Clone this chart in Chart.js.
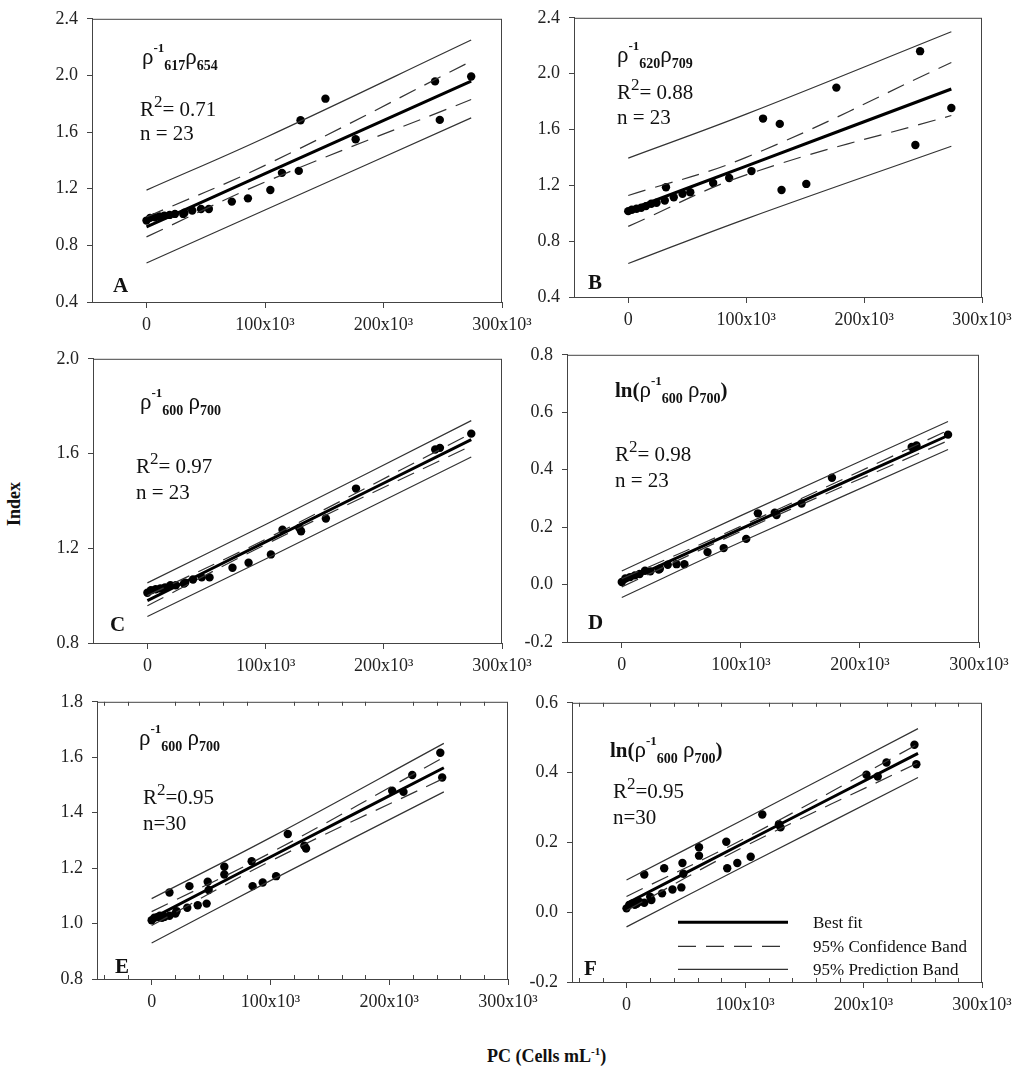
<!DOCTYPE html>
<html>
<head>
<meta charset="utf-8">
<script src="https://cdn.jsdelivr.net/npm/chart.js@4.4.1/dist/chart.umd.min.js"></script>
<style>
  body { margin: 0; background: #fff; width: 1024px; height: 1075px; position: relative; overflow: hidden; font-family: "Liberation Serif", "Times New Roman", serif; color: #111; }
  canvas { position: absolute; }
  #ytitle { position: absolute; left: -21px; top: 494px; width: 70px; text-align: center; font-weight: bold; font-size: 18px; line-height: 20px; transform: rotate(-90deg); }
  #xtitle { position: absolute; left: 487px; top: 1046px; font-weight: bold; font-size: 18px; line-height: 20px; white-space: nowrap; }
  #xtitle sup { font-size: 11px; vertical-align: 7px; line-height: 0; }
</style>
</head>
<body>
<div id="ytitle">Index</div>
<div id="xtitle">PC (Cells mL<sup>-1</sup>)</div>
<script>
// sample cell counts (panels A-D share 23 samples, E-F share 30)
const PC_AD = [0, 3000, 7000, 11000, 15000, 19500, 24000, 31000, 32000, 38600, 46000, 52600,
  72000, 85600, 104500, 114300, 128500, 130000, 151000, 176500, 243500, 247500, 274000];
const IDX_A = [0.975, 0.994, 0.999, 1.004, 1.010, 1.015, 1.022, 1.022, 1.030, 1.046, 1.057, 1.057,
  1.109, 1.132, 1.191, 1.312, 1.326, 1.684, 1.836, 1.549, 1.958, 1.686, 1.993];
const IDX_B = [1.015, 1.025, 1.032, 1.039, 1.051, 1.068, 1.075, 1.091, 1.186, 1.115, 1.139, 1.150,
  1.217, 1.252, 1.302, 1.678, 1.640, 1.167, 1.210, 1.900, 1.489, 2.161, 1.754];
const IDX_C = [1.012, 1.023, 1.027, 1.030, 1.035, 1.044, 1.044, 1.051, 1.055, 1.068, 1.077, 1.077,
  1.118, 1.139, 1.174, 1.278, 1.286, 1.272, 1.326, 1.452, 1.617, 1.624, 1.684];
const IDX_D = [0.009, 0.021, 0.026, 0.032, 0.037, 0.048, 0.046, 0.052, 0.055, 0.069, 0.071, 0.071,
  0.113, 0.127, 0.159, 0.248, 0.250, 0.242, 0.282, 0.372, 0.479, 0.484, 0.522];

const PC_EF = [0, 2300, 5000, 7000, 8700, 10700, 15000, 15000, 20000, 21000, 30000, 31800, 38800,
  46300, 47200, 48000, 61200, 61200, 84200, 85000, 93500, 104800, 114600, 128600, 130000,
  202500, 212000, 219400, 243000, 244600];
const IDX_E = [1.012, 1.021, 1.024, 1.028, 1.021, 1.024, 1.028, 1.112, 1.036, 1.045, 1.057, 1.135, 1.066,
  1.072, 1.151, 1.121, 1.205, 1.177, 1.225, 1.135, 1.148, 1.171, 1.323, 1.281, 1.271,
  1.479, 1.475, 1.536, 1.616, 1.527];
const IDX_F = [0.011, 0.021, 0.025, 0.021, 0.024, 0.030, 0.027, 0.108, 0.044, 0.035, 0.054, 0.126, 0.065,
  0.071, 0.141, 0.110, 0.186, 0.162, 0.202, 0.126, 0.141, 0.159, 0.280, 0.252, 0.243,
  0.394, 0.389, 0.429, 0.480, 0.424];

// regression lines, read at x = start / 100k / end
const LINE_X_AD = [0, 100000, 274000];
const LINE_X_EF = [0, 100000, 246000];
const BEST_FIT = [[0.93, 1.306, 1.96], [1.02, 1.338, 1.89], [0.979, 1.227, 1.659],
  [0.006, 0.194, 0.519], [1.018, 1.24, 1.562], [0.025, 0.2005, 0.455]];
const CONF_UP = [[1.00, 1.365, 2.10], [1.127, 1.40, 2.08], [1.0, 1.238, 1.685],
  [0.02, 0.203, 0.537], [1.043, 1.255, 1.60], [0.045, 0.212, 0.482]];
const CONF_LO = [[0.86, 1.247, 1.83], [0.906, 1.275, 1.70], [0.957, 1.216, 1.633],
  [-0.008, 0.185, 0.501], [0.993, 1.225, 1.524], [0.005, 0.189, 0.428]];
const PRED_UP = [[1.19, 1.56, 2.25], [1.395, 1.71, 2.30], [1.054, 1.30, 1.739],
  [0.047, 0.24, 0.568], [1.09, 1.31, 1.65], [0.092, 0.268, 0.526]];
const PRED_LO = [[0.675, 1.05, 1.70], [0.64, 0.96, 1.48], [0.912, 1.155, 1.585],
  [-0.045, 0.148, 0.47], [0.93, 1.155, 1.475], [-0.042, 0.133, 0.386]];

const Y_MIN = [0.4, 0.4, 0.8, -0.2, 0.8, -0.2];
const Y_MAX = [2.4, 2.4, 2.0, 0.8, 1.8, 0.6];
const Y_STEP = [0.4, 0.4, 0.4, 0.2, 0.2, 0.2];
const X_MAJOR = [0, 100000, 200000, 300000];
const X_MINOR_STEP = 20000;

const LETTERS = ["A", "B", "C", "D", "E", "F"];
const R2_TEXT = ["= 0.71", "= 0.88", "= 0.97", "= 0.98", "=0.95", "=0.95"];
const N_TEXT = ["n = 23", "n = 23", "n = 23", "n = 23", "n=30", "n=30"];
const RATIO_1 = [["ρ", "rho"], ["-1", "sup"], ["617", "sub"], ["ρ", "rho"], ["654", "sub"]];
const RATIO_2 = [["ρ", "rho"], ["-1", "sup"], ["620", "sub"], ["ρ", "rho"], ["709", "sub"]];
const RATIO_3 = [["ρ", "rho"], ["-1", "sup"], ["600", "sub"], [" ", "main"], ["ρ", "rho"], ["700", "sub"]];
const RATIO_LN = [["ln(", "bold"], ["ρ", "rho"], ["-1", "sup"], ["600", "sub"], [" ", "main"], ["ρ", "rho"], ["700", "sub"], [")", "bold"]];
const TITLES = [RATIO_1, RATIO_2, RATIO_3, RATIO_LN, RATIO_3, RATIO_LN];
const LEGEND_LABELS = ["Best fit", "95% Confidence Band", "95% Prediction Band"];

// layout
const SERIF = '"Liberation Serif", "Times New Roman", serif';
const BOXES = [
  { l: 92, t: 17, r: 502, b: 302 }, { l: 574, t: 16, r: 982, b: 297 },
  { l: 93, t: 357, r: 502, b: 643 }, { l: 567, t: 353, r: 979, b: 642 },
  { l: 97, t: 700, r: 508, b: 979 }, { l: 572, t: 701, r: 982, b: 982 }
];
const TXT_POS = [
  { tx: 50, ty: 45, rx: 48, ry: 97, ny: 121, lx: 21, ly: 273 },
  { tx: 43, ty: 44, rx: 43, ry: 81, ny: 106, lx: 14, ly: 271 },
  { tx: 47, ty: 50, rx: 43, ry: 114, ny: 140, lx: 17, ly: 272 },
  { tx: 48, ty: 42, rx: 48, ry: 106, ny: 132, lx: 21, ly: 274 },
  { tx: 42, ty: 43, rx: 46, ry: 102, ny: 128, lx: 18, ly: 271 },
  { tx: 38, ty: 54, rx: 41, ry: 95, ny: 121, lx: 12, ly: 272 }
];
const PAD_L = 60, PAD_R = 45, PAD_T = 18, PAD_B = 45;
const STYLE = {
  main: { font: "21px " + SERIF, dy: 0 },
  bold: { font: "bold 21px " + SERIF, dy: 0 },
  rho: { font: "23px " + SERIF, dy: 0 },
  sup: { font: "bold 13px " + SERIF, dy: -12 },
  sub: { font: "bold 14px " + SERIF, dy: 6 },
  sup2: { font: "17px " + SERIF, dy: -9 }
};
const DASH = [18, 10];
const AXIS_COLOR = "#444";

Chart.defaults.font.family = SERIF;
Chart.defaults.color = "#222";

function drawRich(ctx, x, y, segs) {
  for (const s of segs) {
    const st = STYLE[s[1]];
    ctx.font = st.font;
    ctx.fillText(s[0], x, y + st.dy);
    x += ctx.measureText(s[0]).width;
  }
}

function fmtX(v) {
  if (v === 0) return "0";
  return (v / 1000) + "x10³";
}

function decoPlugin(i) {
  return {
    id: "deco" + i,
    afterDraw(chart) {
      const ctx = chart.ctx, a = chart.chartArea, p = TXT_POS[i];
      ctx.save();
      ctx.strokeStyle = AXIS_COLOR;
      ctx.lineWidth = 1;
      ctx.strokeRect(a.left + 0.5, a.top + 0.5, a.right - a.left - 1, a.bottom - a.top);

      if (i >= 4) {
        // short inward minor ticks on the top and bottom edges
        const xs = chart.scales.x;
        ctx.beginPath();
        for (let v = -40000; v < 300000; v += X_MINOR_STEP) {
          if (v % 100000 === 0) continue;
          const px = Math.round(xs.getPixelForValue(v)) + 0.5;
          ctx.moveTo(px, a.top); ctx.lineTo(px, a.top + 4);
          ctx.moveTo(px, a.bottom); ctx.lineTo(px, a.bottom - 4);
        }
        ctx.stroke();
      }

      ctx.fillStyle = "#111";
      ctx.textAlign = "left";
      ctx.textBaseline = "alphabetic";
      drawRich(ctx, a.left + p.tx, a.top + p.ty, TITLES[i]);
      drawRich(ctx, a.left + p.rx, a.top + p.ry, [["R", "main"], ["2", "sup2"], [R2_TEXT[i], "main"]]);
      drawRich(ctx, a.left + p.rx, a.top + p.ny, [[N_TEXT[i], "main"]]);
      ctx.font = "bold 21px " + SERIF;
      ctx.fillText(LETTERS[i], a.left + p.lx, a.top + p.ly);

      if (i === 5) {
        // legend for the whole figure sits inside panel F
        const rows = [219, 243, 266];
        const styles = [{ w: 3, d: [] }, { w: 1.2, d: DASH }, { w: 1.2, d: [] }];
        rows.forEach((ry, k) => {
          ctx.beginPath();
          ctx.lineWidth = styles[k].w;
          ctx.setLineDash(styles[k].d);
          ctx.strokeStyle = k === 0 ? "#000" : "#333";
          ctx.moveTo(a.left + 106, a.top + ry + 0.5);
          ctx.lineTo(a.left + 216, a.top + ry + 0.5);
          ctx.stroke();
          ctx.setLineDash([]);
          ctx.font = "17px " + SERIF;
          ctx.fillStyle = "#111";
          ctx.fillText(LEGEND_LABELS[k], a.left + 241, a.top + ry + 6);
        });
      }
      ctx.restore();
    }
  };
}

function lineSet(label, xs, ys, width, dash, color) {
  return {
    label: label,
    data: xs.map((x, k) => ({ x: x, y: ys[k] })),
    showLine: true,
    pointRadius: 0,
    borderColor: color,
    borderWidth: width,
    borderDash: dash,
    tension: 0.4,
    fill: false
  };
}

function makePanel(i, xs, ys) {
  const box = BOXES[i];
  const W = box.r - box.l + PAD_L + PAD_R;
  const H = box.b - box.t + PAD_T + PAD_B;
  const canvas = document.createElement("canvas");
  canvas.width = W; canvas.height = H;
  canvas.style.left = (box.l - PAD_L) + "px";
  canvas.style.top = (box.t - PAD_T) + "px";
  canvas.style.width = W + "px";
  canvas.style.height = H + "px";
  document.body.appendChild(canvas);

  const lx = i < 4 ? LINE_X_AD : LINE_X_EF;
  const yTicks = [];
  for (let v = Y_MIN[i]; v <= Y_MAX[i] + 1e-9; v += Y_STEP[i]) yTicks.push(Math.round(v * 10) / 10);

  new Chart(canvas, {
    type: "scatter",
    data: {
      datasets: [
        lineSet(LEGEND_LABELS[2], lx, PRED_UP[i], 1.2, [], "#333"),
        lineSet(LEGEND_LABELS[2], lx, PRED_LO[i], 1.2, [], "#333"),
        lineSet(LEGEND_LABELS[1], lx, CONF_UP[i], 1.2, DASH, "#333"),
        lineSet(LEGEND_LABELS[1], lx, CONF_LO[i], 1.2, DASH, "#333"),
        lineSet(LEGEND_LABELS[0], lx, BEST_FIT[i], 3, [], "#000"),
        {
          label: "Index",
          data: xs.map((x, k) => ({ x: x, y: ys[k] })),
          pointRadius: 4.2,
          pointBackgroundColor: "#000",
          pointBorderWidth: 0,
          showLine: false
        }
      ]
    },
    options: {
      responsive: false,
      animation: false,
      devicePixelRatio: 1,
      layout: { padding: { left: 0, right: PAD_R, top: PAD_T, bottom: 0 } },
      plugins: { legend: { display: false }, tooltip: { enabled: false } },
      scales: {
        x: {
          type: "linear",
          min: -46000,
          max: 300000,
          afterBuildTicks: s => { s.ticks = X_MAJOR.map(v => ({ value: v })); },
          afterFit: s => { s.height = PAD_B; },
          ticks: { callback: v => fmtX(v), autoSkip: false, maxRotation: 0, padding: 6, font: { size: 18 }, color: "#222" },
          grid: { drawOnChartArea: false, tickLength: 6, color: AXIS_COLOR },
          border: { color: AXIS_COLOR }
        },
        y: {
          min: Y_MIN[i],
          max: Y_MAX[i],
          afterBuildTicks: s => { s.ticks = yTicks.map(v => ({ value: v })); },
          afterFit: s => { s.width = PAD_L; },
          ticks: { callback: v => v.toFixed(1), padding: 9, font: { size: 18 }, color: "#222" },
          grid: { drawOnChartArea: false, tickLength: 5, color: AXIS_COLOR },
          border: { color: AXIS_COLOR }
        }
      }
    },
    plugins: [decoPlugin(i)]
  });
}

makePanel(0, PC_AD, IDX_A);
makePanel(1, PC_AD, IDX_B);
makePanel(2, PC_AD, IDX_C);
makePanel(3, PC_AD, IDX_D);
makePanel(4, PC_EF, IDX_E);
makePanel(5, PC_EF, IDX_F);
</script>
</body>
</html>
